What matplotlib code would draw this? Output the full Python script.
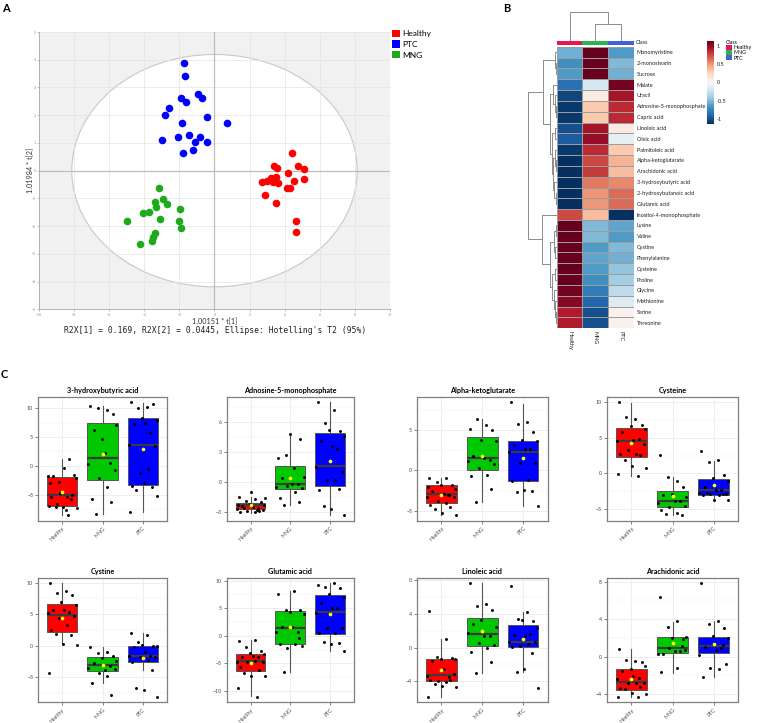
import numpy as np
import matplotlib
matplotlib.use('Agg')
import matplotlib.pyplot as plt
from matplotlib.patches import Ellipse, Patch
from matplotlib.colors import ListedColormap
from matplotlib.ticker import MultipleLocator, FixedLocator

plt.rcParams['font.family'] = ['Lato', 'DejaVu Sans']

# ---------------- Panel A data (PCA scores) ----------------
groups_a = ['Healthy', 'PTC', 'MNG']
colors_a = ['#FF0000', '#0000FF', '#1DAA1D']
healthy_t1 = [4.44, 3.37, 3.54, 4.76, 5.10, 4.19, 3.52, 3.20, 3.01, 2.72, 3.33, 3.62, 4.53, 5.10, 4.11, 4.29, 2.90, 3.50, 4.67, 4.63]
healthy_t2 = [0.64, 0.16, 0.08, 0.16, 0.06, -0.07, -0.22, -0.28, -0.36, -0.42, -0.42, -0.45, -0.37, -0.29, -0.61, -0.61, -0.89, -1.17, -1.83, -2.22]
ptc_t1 = [-1.75, -1.70, -0.95, -0.72, -1.90, -1.64, -2.57, -2.82, -0.44, -1.83, 0.69, -1.43, -2.10, -0.84, -1.09, -0.40, -2.97, -1.24, -1.77]
ptc_t2 = [3.88, 3.42, 2.76, 2.63, 2.61, 2.46, 2.25, 2.02, 1.95, 1.73, 1.73, 1.29, 1.22, 1.23, 1.05, 1.05, 1.11, 0.75, 0.64]
mng_t1 = [-3.16, -2.91, -3.37, -2.72, -3.35, -1.94, -4.10, -3.73, -4.99, -3.10, -2.00, -1.90, -3.39, -3.49, -3.58, -4.25]
mng_t2 = [-0.63, -1.01, -1.12, -1.22, -1.30, -1.37, -1.53, -1.48, -1.82, -1.76, -1.83, -2.07, -2.25, -2.41, -2.52, -2.66]
ellipse_axes = [8.13, 4.19]   # Hotelling's T2 semi-axes
a_ticks_x = [-10, -8, -6, -4, -2, 0, 2, 4, 6, 8, 10]
a_ticks_y = [-5, -4, -3, -2, -1, 0, 1, 2, 3, 4, 5]

# ---------------- Panel B data (heatmap) ----------------
hm_rows = ['Monomyristine', '2-monostearin', 'Sucrose', 'Malate', 'Uracil',
           'Adnosine-5-monophosphate', 'Capric acid', 'Linoleic acid', 'Oleic acid',
           'Palmitoleic acid', 'Alpha-ketoglutarate', 'Arachidonic acid',
           '3-hydroxybutyric acid', '2-hydroxybutanoic acid', 'Glutamic acid',
           'Inositol-4-monophosphate', 'Lysine', 'Valine', 'Cystine', 'Phenylalanine',
           'Cysteine', 'Proline', 'Glycine', 'Methionine', 'Serine', 'Threonine']
hm_cols = ['Healthy', 'MNG', 'PTC']
hm_healthy = [-0.55, -0.7, -0.65, -0.85, -1.05, -1.1, -1.1, -1.0, -0.95, -1.1, -1.15, -1.15, -1.15,
              -1.15, -1.15, 0.75, 1.15, 1.15, 1.15, 1.15, 1.15, 1.15, 1.1, 1.05, 0.9, 0.9]
hm_mng = [1.15, 1.15, 1.15, -0.2, 0.1, 0.3, 0.3, 0.95, 1.0, 0.85, 0.75, 0.8, 0.6, 0.5, 0.5, 0.35,
          -0.5, -0.5, -0.65, -0.6, -0.65, -0.7, -0.8, -0.9, -1.0, -1.0]
hm_ptc = [-0.65, -0.5, -0.55, 1.1, 0.95, 0.85, 0.85, 0.1, -0.1, 0.3, 0.4, 0.35, 0.55, 0.65, 0.65,
          -1.15, -0.6, -0.65, -0.5, -0.55, -0.45, -0.4, -0.3, -0.15, 0.05, 0.05]
class_colors = ['#E8174E', '#2EB34A', '#4361DC']
# dendrograms: (height, left, right); leaves are row/column indices
row_tree = (28.4,
            (14.0, (2.0, 0, (1.0, 1, 2)),
                   (6.7, (4.0, 3, (2.0, 4, (1.0, 5, 6))),
                         (5.0, (2.0, 7, 8),
                               (3.5, (2.0, 9, (1.0, 10, 11)), (2.5, 12, (1.0, 13, 14)))))),
            (15.0, 15,
                   (6.7, (3.0, (1.0, 16, 17), (1.5, 18, 19)),
                         (4.5, (1.5, 20, 21), (3.0, 22, (2.0, 23, (1.0, 24, 25)))))))
col_tree = (29.0, 0, (16.4, 1, 2))

# ---------------- Panel C data (box plots) ----------------
groups_c = ['Healthy', 'MNG', 'PTC']
box_colors = ['#FF0000', '#00C800', '#0000FF']
c_titles = ['3-hydroxybutyric acid', 'Adnosine-5-monophosphate', 'Alpha-ketoglutarate', 'Cysteine',
            'Cystine', 'Glutamic acid', 'Linoleic acid', 'Arachidonic acid']
c_yticks = [[-5, 0, 5, 10], [-3, 0, 3, 6], [-5, 0, 5], [-5, 0, 5, 10],
            [-5, 0, 5, 10], [-10, -5, 0, 5, 10], [-4, 0, 4, 8], [-4, 0, 4, 8]]

hba_pts = [[-3.0, -7.7, -6.6, -5.0, -4.6, -2.1, -1.7, -0.4, 1.15, -1.7, -1.6, -2.9, -5.5, -5.5, -5.8, -7.2, -7.1, -7.3, -6.9, -8.6, -4.8],
           [10.4, 9.6, 10.0, 8.9, 4.6, 7.0, 6.2, 2.3, 0.5, 0.35, -0.8, -2.1, -3.6, -5.8, -6.3, -8.3],
           [11.0, 10.2, 10.0, 10.8, 8.3, 8.0, 7.3, 7.5, 5.6, 3.6, 3.4, -1.3, -0.5, -3.5, -3.7, -4.2, -3.0, -5.3, -8.1]]
hba_box = [[-8.6, -7.0, -5.1, -2.0, 1.15], [-8.4, -2.5, 1.3, 7.4, 10.4], [-8.1, -3.3, 3.6, 8.2, 10.9]]
hba_mean = [-4.6, 2.0, 2.9]

amp_pts = [[-1.5, -1.7, -1.9, -2.0, -2.2, -2.3, -2.4, -2.5, -2.6, -2.7, -2.8, -2.9, -3.0, -3.0, -2.9, -2.6, -1.0, -1.6, -2.3, -2.8],
           [2.4, 1.37, 2.7, 4.3, 4.8, 0.47, 0.37, -0.2, -0.27, -0.5, -0.6, -0.47, -1.07, -1.67, -2.07, -2.37],
           [8.0, 7.2, 5.95, 5.1, 5.2, 4.6, 4.1, 3.6, 3.35, 1.5, 1.0, 0.13, 0.13, -0.8, -0.73, -2.47, -2.74, -3.38]]
amp_box = [[-3.1, -2.74, -2.34, -2.14, -1.5], [-2.3, -0.74, -0.23, 1.6, 4.7], [-3.3, -0.4, 1.55, 4.9, 8.0]]
amp_mean = [-2.37, 0.43, 2.1]

akg_pts = [[-1.0, -0.95, -1.5, -1.8, -1.8, -2.3, -2.6, -2.9, -3.1, -3.3, -3.3, -3.8, -4.0, -4.3, -4.5, -4.8, -5.3, -5.6, -2.1, -3.0],
           [5.2, 5.7, 6.45, 5.0, 3.84, 3.7, 1.78, 1.57, 1.36, 1.2, 0.8, 0.3, -0.54, -0.7, -2.36, -3.9],
           [8.5, 6.0, 5.8, 4.8, 3.84, 3.64, 3.2, 2.64, 2.68, 2.36, 0.9, 0.9, -1.24, -1.36, -2.6, -2.7, -2.48, -4.4]]
akg_box = [[-5.6, -4.1, -2.9, -1.86, -0.9], [-3.9, 0.08, 1.53, 4.13, 6.4], [-4.4, -1.32, 2.36, 3.72, 8.35]]
akg_mean = [-3.0, 1.86, 1.53]

cys_pts = [[10.0, 7.66, 8.0, 6.87, 6.73, 6.2, 5.8, 4.77, 4.86, 4.63, 4.16, 3.3, 2.76, 2.76, 2.62, 1.82, 0.98, 0.75, -0.05, -0.42],
           [2.66, -1.07, -0.51, -1.92, -2.94, -3.32, -3.08, -3.88, -3.88, -4.16, -4.58, -4.72, -5.51, -5.19, -5.89, -5.65],
           [3.13, 1.92, 1.59, -0.19, -0.61, -1.12, -1.92, -2.29, -2.38, -2.76, -2.85, -2.94, -3.08, -3.08, -2.94, -2.76, -3.69, -3.69]]
cys_box = [[-0.33, 2.38, 4.5, 6.36, 9.95], [-5.9, -4.72, -3.88, -2.52, -0.51], [-3.69, -2.99, -2.29, -0.75, 1.73]]
cys_mean = [4.25, -3.22, -1.59]

cyn_pts = [[9.9, 8.7, 8.4, 8.1, 7.0, 6.47, 5.72, 5.6, 5.3, 5.14, 4.72, 4.45, 3.29, 2.49, 1.7, 1.8, 0.32, 0.1, -4.4],
           [-0.16, -1.06, -1.22, -1.64, -1.9, -2.44, -2.81, -3.87, -3.23, -3.5, -3.7, -4.29, -4.77, -5.99, -7.84],
           [2.07, 1.7, 0.64, -0.05, 0.05, -0.05, -0.16, -0.95, -1.64, -1.64, -1.75, -1.85, -2.28, -2.65, -3.87, -6.78, -7.05, -8.11]]
cyn_box = [[0.26, 2.23, 4.93, 6.57, 9.9], [-5.99, -3.97, -3.07, -1.85, -0.16], [-3.87, -2.54, -1.64, -0.05, 1.96]]
cyn_mean = [4.35, -3.07, -1.91]

glu_pts = [[-0.9, -0.8, -2.0, -2.7, -3.1, -3.2, -3.8, -3.7, -3.8, -4.8, -4.8, -4.8, -4.5, -5.6, -6.2, -6.7, -7.3, -7.3, -9.5, -11.0],
           [7.55, 8.16, 4.71, 4.71, 4.35, 3.93, 1.51, 1.63, 0.73, 0.73, -1.87, -2.17, -1.39, -1.39, -0.48, -6.53],
           [9.18, 9.49, 8.88, 8.7, 7.55, 7.07, 5.98, 4.95, 5.08, 4.17, 1.45, 1.33, 0.54, 0.54, -1.27, -1.09, -1.39, -2.78]]
glu_box = [[-10.9, -6.4, -4.53, -3.2, -0.8], [-6.5, -1.39, 1.33, 4.47, 8.16], [-2.72, 0.42, 4.23, 7.37, 9.49]]
glu_mean = [-4.9, 1.51, 3.87]

lin_pts = [[4.32, 0.99, -1.11, -1.23, -1.31, -1.39, -1.54, -2.53, -3.45, -3.33, -3.13, -3.96, -4.12, -3.84, -3.84, -4.36, -4.51, -4.71, -5.82],
           [7.64, 5.15, 4.99, 4.48, 3.29, 2.42, 2.81, 1.43, 1.39, 1.7, 0.32, 0.51, 0.0, -0.48, -1.74, -2.97],
           [7.37, 4.28, 3.37, 3.21, 3.29, 2.3, 1.54, 1.39, 1.58, 0.71, 0.71, 0.2, 0.44, 0.04, -0.67, -2.85, -2.49, -4.83]]
lin_box = [[-5.82, -3.96, -3.25, -1.39, 0.99], [-2.97, 0.2, 1.58, 3.56, 7.64], [-2.85, 0.12, 0.71, 2.69, 4.28]]
lin_mean = [-2.65, 1.98, 1.03]

ara_pts = [[0.82, -0.5, -0.35, -0.6, -1.35, -0.99, -1.53, -2.06, -2.31, -2.41, -2.77, -2.77, -2.77, -3.3, -3.2, -3.44, -3.9, -4.01, -4.26, -4.26],
           [6.32, 3.8, 3.12, 1.85, 1.99, 2.13, 0.25, 0.6, 0.6, 0.25, 0.75, 0.89, -1.24, -1.67, 1.14],
           [7.81, 3.83, 3.48, 3.02, 2.2, 2.02, 1.06, 0.71, 0.96, 0.14, -0.78, -1.24, -1.35, -2.13, 1.24]]
ara_box = [[-4.26, -3.59, -2.73, -1.28, 0.82], [-1.7, 0.35, 0.89, 2.06, 3.73], [-2.13, 0.43, 1.14, 2.13, 3.8]]
ara_mean = [-2.41, 1.42, 1.31]

c_pts = [hba_pts, amp_pts, akg_pts, cys_pts, cyn_pts, glu_pts, lin_pts, ara_pts]
c_box = [hba_box, amp_box, akg_box, cys_box, cyn_box, glu_box, lin_box, ara_box]
c_mean = [hba_mean, amp_mean, akg_mean, cys_mean, cyn_mean, glu_mean, lin_mean, ara_mean]

# horizontal jitter pattern (display only)
JITTER = np.array([-0.3, 0.1, -0.12, 0.25, -0.02, 0.34, -0.22, 0.05, 0.18, -0.35, 0.3,
                   -0.08, 0.12, -0.27, 0.22, -0.16, 0.02, 0.36, -0.32, 0.15, -0.05])

# ---------------- figure ----------------
W, H = 758, 723
fig = plt.figure(figsize=(W / 100, H / 100), dpi=100)


def px_axes(x0, y0, x1, y1):
    return fig.add_axes([x0 / W, 1 - y1 / H, (x1 - x0) / W, (y1 - y0) / H])


# ===== Panel A =====
fig.text(2.5 / W, 1 - 2.5 / H, 'A', fontsize=8, fontweight='bold', va='top', ha='left')
axA = px_axes(39, 32, 390, 309.3)
axA.set_xlim(a_ticks_x[0], a_ticks_x[-1])
axA.set_ylim(a_ticks_y[0], a_ticks_y[-1])
axA.set_facecolor('#F1F1F1')
axA.add_patch(Ellipse((0, 0), 2 * ellipse_axes[0], 2 * ellipse_axes[1], facecolor='white',
                      edgecolor='#C8C8C8', lw=0.8, zorder=1))
axA.set_xticks(a_ticks_x)
axA.set_yticks(a_ticks_y)
axA.grid(True, color='#E4E4E4', lw=0.5, zorder=1.5)
axA.axhline(0, color='#BDBDBD', lw=0.9, zorder=2)
axA.axvline(0, color='#BDBDBD', lw=0.9, zorder=2)
for t1, t2, c, lab in zip([healthy_t1, ptc_t1, mng_t1], [healthy_t2, ptc_t2, mng_t2], colors_a, groups_a):
    axA.scatter(t1, t2, s=30, color=c, lw=0, zorder=3, label=lab)
for side in ['top', 'right']:
    axA.spines[side].set_visible(False)
for side in ['left', 'bottom']:
    axA.spines[side].set_color('#A8A8A8')
    axA.spines[side].set_linewidth(0.6)
axA.tick_params(labelsize=2.5, colors='#909090', length=1.5, width=0.4, pad=1)
fig.text(215 / W, 1 - 321.5 / H, '1.00151 * t[1]', fontsize=5.2, ha='center', va='center', color='#333333')
fig.text(215 / W, 1 - 331 / H, "R2X[1] = 0.169, R2X[2] = 0.0445, Ellipse: Hotelling's T2 (95%)",
         fontsize=5.8, ha='center', va='center', family='DejaVu Sans Mono', color='#222222')
fig.text(31 / W, 1 - 170 / H, '1.01984 * t[2]', fontsize=5.2, ha='center', va='center', rotation=90, color='#333333')
fig.legend(handles=[Patch(facecolor=c, edgecolor='none') for c in colors_a], labels=groups_a,
           loc='upper left', bbox_to_anchor=(392 / W, 1 - 29.5 / H), frameon=False, fontsize=6,
           handlelength=1.0, handleheight=1.0, handletextpad=0.2, labelspacing=0.38,
           borderpad=0, borderaxespad=0)

# ===== Panel B =====
fig.text(503 / W, 1 - 2.5 / H, 'B', fontsize=8, fontweight='bold', va='top', ha='left')
HM_X0, HM_X1, HM_Y0, HM_Y1 = 556.7, 634, 46.7, 328.3
n_rows = len(hm_rows)
axHM = px_axes(HM_X0, HM_Y0, HM_X1, HM_Y1)
M = np.column_stack([hm_healthy, hm_mng, hm_ptc])
mesh = axHM.pcolormesh(M, cmap='RdBu_r', vmin=-1.14, vmax=1.14, edgecolors='#9C9C9C', linewidth=0.45)
axHM.set_xlim(0, 3)
axHM.set_ylim(n_rows, 0)
for s in axHM.spines.values():
    s.set_visible(False)
axHM.yaxis.tick_right()
axHM.set_yticks(np.arange(n_rows) + 0.5)
axHM.set_yticklabels(hm_rows, fontsize=4, color='#222222')
axHM.set_xticks(np.arange(3) + 0.5)
axHM.set_xticklabels(hm_cols, fontsize=4, rotation=270, color='#222222')
axHM.tick_params(length=0, pad=2)

# class annotation bar
axCl = px_axes(HM_X0, 40.8, HM_X1, 45.2)
axCl.pcolormesh(np.arange(3)[None, :], cmap=ListedColormap(class_colors), vmin=-0.5, vmax=2.5)
axCl.set_xlim(0, 3)
axCl.set_xticks([])
axCl.set_yticks([])
for s in axCl.spines.values():
    s.set_visible(False)
axCl.text(3.06, 0.5, 'Class', fontsize=4, va='center', ha='left',
          transform=axCl.get_xaxis_transform(), color='#222222')


def draw_tree(ax, node, orient):
    if isinstance(node, int):
        return node + 0.5, 0.0
    h, a, b = node
    pa, ha = draw_tree(ax, a, orient)
    pb, hb = draw_tree(ax, b, orient)
    if orient == 'left':
        ax.plot([ha, h, h, hb], [pa, pa, pb, pb], color='#7A7A7A', lw=0.6, solid_capstyle='butt')
    else:
        ax.plot([pa, pa, pb, pb], [ha, h, h, hb], color='#7A7A7A', lw=0.6, solid_capstyle='butt')
    return (pa + pb) / 2, h


axDR = px_axes(525.5, HM_Y0, HM_X0, HM_Y1)
draw_tree(axDR, row_tree, 'left')
axDR.set_xlim(HM_X0 - 525.5, 0)
axDR.set_ylim(n_rows, 0)
axDR.axis('off')

axDC = px_axes(HM_X0, 9.5, HM_X1, 40.8)
draw_tree(axDC, col_tree, 'top')
axDC.set_xlim(0, 3)
axDC.set_ylim(0, 40.8 - 9.5)
axDC.axis('off')

axCB = px_axes(707, 40.7, 714, 124)
cb = fig.colorbar(mesh, cax=axCB, ticks=[-1, -0.5, 0, 0.5, 1])
cb.set_ticklabels(['-1', '-0.5', '0', '0.5', '1'])
cb.outline.set_visible(False)
axCB.tick_params(length=0, labelsize=4, pad=2, colors='#222222')

fig.legend(handles=[Patch(facecolor=c, edgecolor='none') for c in class_colors], labels=hm_cols,
           title='Class', title_fontsize=3.8, fontsize=3.8, loc='upper left',
           bbox_to_anchor=(726 / W, 1 - 40 / H), frameon=False, handlelength=1.2, handleheight=1.05,
           handletextpad=0.3, labelspacing=0.0, borderpad=0, borderaxespad=0, alignment='left')

# ===== Panel C =====
fig.text(1 / W, 1 - 369 / H, 'C', fontsize=8, fontweight='bold', va='top', ha='left')
col_x = [(38, 167), (226.7, 354), (417, 547.5), (606.7, 738.3)]
row_y = [(396.7, 521), (577.7, 702.3)]

for k in range(8):
    (x0, x1), (y0, y1) = col_x[k % 4], row_y[k // 4]
    ax = px_axes(x0, y0, x1, y1)
    pts, box, means = c_pts[k], c_box[k], c_mean[k]
    allv = np.concatenate([np.concatenate(pts), np.ravel(box)])
    lo, hi = allv.min(), allv.max()
    pad = 0.05 * (hi - lo)
    ax.set_ylim(lo - pad, hi + pad)
    ax.set_xlim(0.4, 3.6)
    stats = [dict(whislo=b[0], q1=b[1], med=b[2], q3=b[3], whishi=b[4], fliers=[]) for b in box]
    bp = ax.bxp(stats, positions=[1, 2, 3], widths=0.75, showcaps=False, showfliers=False,
                patch_artist=True, manage_ticks=False,
                boxprops=dict(edgecolor='#555555', linewidth=0.7),
                medianprops=dict(color='#3A3A3A', linewidth=1.6),
                whiskerprops=dict(color='#555555', linewidth=0.8), zorder=2)
    for patch, c in zip(bp['boxes'], box_colors):
        patch.set_facecolor(c)
    for i, vals in enumerate(pts):
        ax.scatter(i + 1 + JITTER[:len(vals)], vals, s=4.5, color='black', lw=0, zorder=3)
    ax.scatter([1, 2, 3], means, s=7, color='#FFFF00', lw=0, zorder=4)
    yt = c_yticks[k]
    step = yt[1] - yt[0]
    ax.yaxis.set_major_locator(FixedLocator(yt))
    ax.yaxis.set_minor_locator(MultipleLocator(step / 2))
    ax.set_xticks([1, 2, 3])
    ax.set_xticklabels(groups_c, rotation=45, ha='right', rotation_mode='anchor')
    ax.set_axisbelow(True)
    ax.grid(which='major', color='#EBEBEB', lw=0.6)
    ax.grid(which='minor', axis='y', color='#F2F2F2', lw=0.35)
    ax.tick_params(which='major', labelsize=3.8, colors='#4D4D4D', length=2, width=0.5, pad=1.5)
    ax.tick_params(which='minor', length=0)
    for s in ax.spines.values():
        s.set_color('#7F7F7F')
        s.set_linewidth(0.9)
    ax.set_title(c_titles[k], fontsize=5.2, fontweight='bold', pad=2.5)

fig.savefig('out.png', dpi=100)
